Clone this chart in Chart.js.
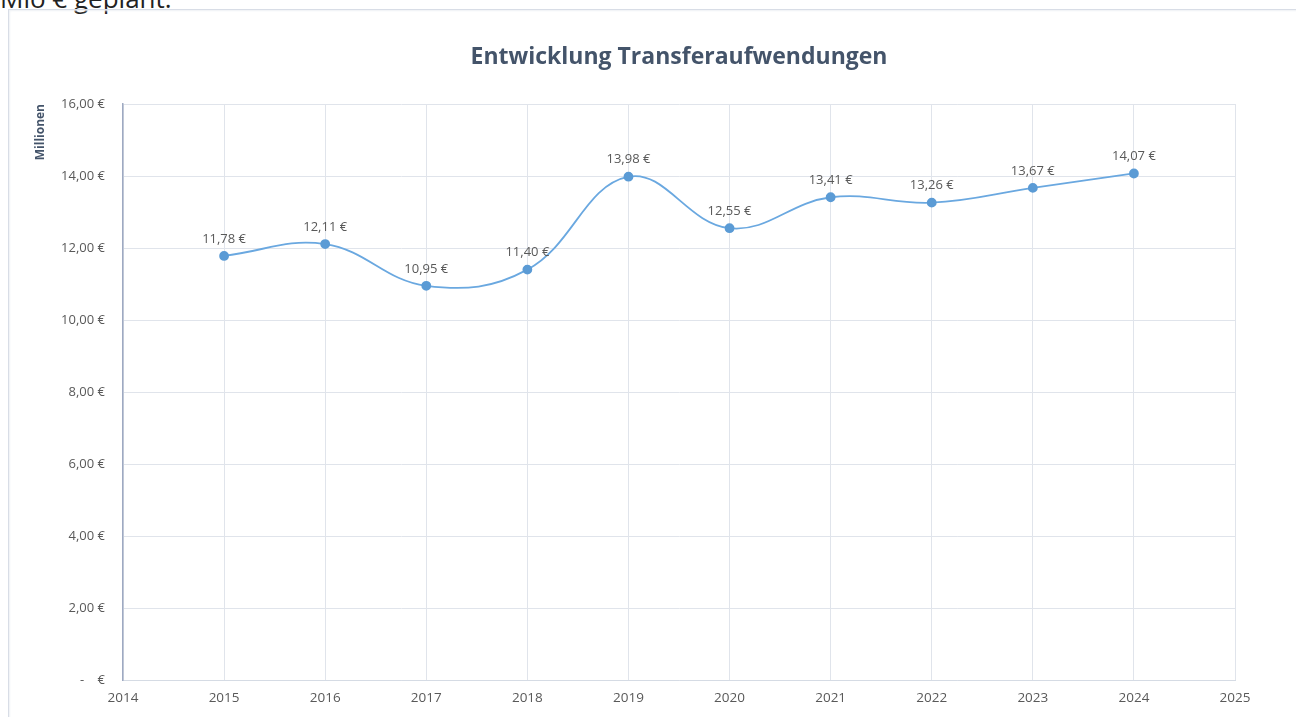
<!DOCTYPE html>
<html>
<head>
<meta charset="utf-8">
<script src="https://cdn.jsdelivr.net/npm/chart.js@4/dist/chart.umd.min.js"></script>
<style>
  body { margin: 0; background: #fff; width: 1296px; height: 717px; overflow: hidden; position: relative; font-family: "Open Sans", sans-serif; }
  #above { position: absolute; left: 0; top: -20px; font-size: 26px; color: #222; white-space: nowrap; }
  #box { position: absolute; left: 8px; top: 9px; width: 1300px; height: 720px; border: 1px solid #d8dde6; box-shadow: 1px 1px 2px #eef1f5 inset; }
  #wrap { position: absolute; left: 0; top: 0; width: 1296px; height: 717px; }
</style>
</head>
<body>
<div id="above">Mio € geplant.</div>
<div id="box"></div>
<div id="wrap"><canvas id="chart"></canvas></div>
<script>
const years = [2015, 2016, 2017, 2018, 2019, 2020, 2021, 2022, 2023, 2024];
const amounts = [11.78, 12.11, 10.95, 11.40, 13.98, 12.55, 13.41, 13.26, 13.67, 14.07];
const chartTitle = "Entwicklung Transferaufwendungen";
const yAxisTitle = "Millionen";

function euro(v) {
  return v.toFixed(2).replace(".", ",") + " €";
}

// labels above each point
const pointLabels = {
  id: "pointLabels",
  afterDatasetsDraw(chart) {
    const ctx = chart.ctx;
    const meta = chart.getDatasetMeta(0);
    ctx.save();
    ctx.font = "13px 'Open Sans'";
    ctx.fillStyle = "#595959";
    ctx.textAlign = "center";
    ctx.textBaseline = "middle";
    meta.data.forEach((pt, i) => {
      ctx.fillText(euro(amounts[i]), pt.x, pt.y - 17);
    });
    ctx.restore();
  }
};

const ctx = document.getElementById("chart").getContext("2d");
new Chart(ctx, {
  type: "line",
  data: {
    datasets: [{
      data: years.map((y, i) => ({ x: y, y: amounts[i] })),
      borderColor: "#6aa8e0",
      borderWidth: 1.8,
      backgroundColor: "#5b9bd5",
      pointBackgroundColor: "#5b9bd5",
      pointBorderColor: "#5b9bd5",
      pointRadius: 4,
      tension: 0.4,
      fill: false
    }]
  },
  options: {
    responsive: true,
    maintainAspectRatio: false,
    animation: false,
    layout: { padding: { left: 30, top: 0, right: 61, bottom: 0 } },
    plugins: {
      legend: { display: false },
      tooltip: { enabled: false },
      title: {
        display: true,
        text: chartTitle,
        fullSize: false,
        color: "#44546a",
        font: { family: "'Open Sans'", size: 23, weight: "bold" },
        padding: { top: 44, bottom: 32.4 }
      }
    },
    scales: {
      x: {
        type: "linear",
        min: 2014,
        max: 2025,
        ticks: {
          stepSize: 1,
          padding: 10,
          color: "#595959",
          font: { family: "'Open Sans'", size: 13.5 },
          callback: v => String(v)
        },
        grid: { color: "#e0e4eb", drawTicks: false },
        border: { color: "#d5dbe4" },
        afterFit(scale) { scale.height = 37; }
      },
      y: {
        min: 0,
        max: 16,
        ticks: {
          stepSize: 2,
          padding: 18,
          color: "#595959",
          font: { family: "'Open Sans'", size: 13 },
          callback: v => v === 0 ? "-    €" : euro(v)
        },
        grid: { color: "#e0e4eb", drawTicks: false },
        border: { color: "#9ea9c2", width: 1.5 },
        title: {
          display: true,
          text: yAxisTitle,
          align: "end",
          color: "#44546a",
          font: { family: "'Open Sans'", size: 12, weight: "bold" },
          padding: { top: 3, bottom: 0 }
        },
        afterFit(scale) { scale.width = 93; }
      }
    }
  },
  plugins: [pointLabels]
});
</script>
</body>
</html>
